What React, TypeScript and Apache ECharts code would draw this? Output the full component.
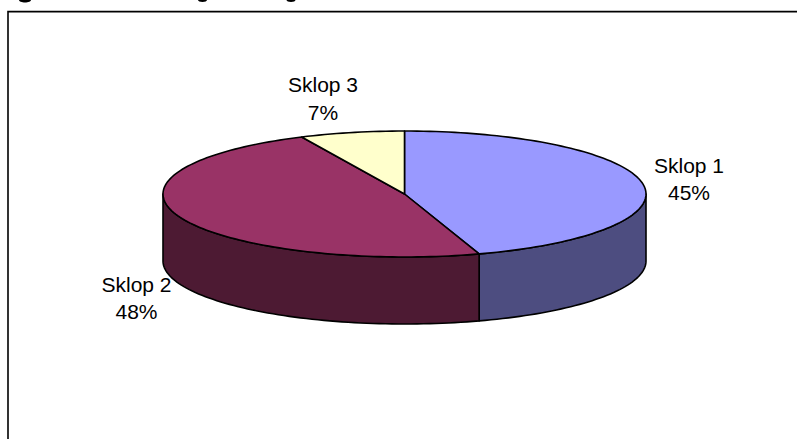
import React, { useEffect, useRef } from "react";
import * as echarts from "echarts";

const categories = ["Sklop 1", "Sklop 2", "Sklop 3"];
const shares = [45, 48, 7];
const topColors = ["#9999FF", "#993366", "#FFFFCC"];
const sideColors = ["#4D4D80", "#4D1A33", "#808066"];
const labelAnchors = [
  [689, 179],
  [136.5, 298],
  [323, 98.5],
];

const CX = 404.5;
const CY = 194;
const RX = 241.5;
const RY = 63;
const DEPTH = 67;
const total = shares.reduce((a, b) => a + b, 0);

// clockwise from twelve o'clock, in degrees
const rimPoint = (deg: number, dy = 0): number[] => {
  const r = (deg * Math.PI) / 180;
  return [CX + RX * Math.sin(r), CY - RY * Math.cos(r) + dy];
};
const arcPoints = (from: number, to: number, dy = 0): number[][] => {
  const steps = Math.max(2, Math.ceil((to - from) / 1.5));
  const pts: number[][] = [];
  for (let i = 0; i <= steps; i++) pts.push(rimPoint(from + ((to - from) * i) / steps, dy));
  return pts;
};

const renderSlice = (params: any, api: any) => {
  const i = params.dataIndex;
  const before = shares.slice(0, i).reduce((a, b) => a + b, 0);
  const start = (before / total) * 360;
  const end = start + (api.value(0) / total) * 360;
  const children: any[] = [];
  const stroke = { stroke: "#000", lineWidth: 1.6, lineJoin: "round" };
  const sideFrom = Math.max(start, 90);
  const sideTo = Math.min(end, 270);
  if (sideTo > sideFrom) {
    const upper = arcPoints(sideFrom, sideTo);
    const lower = arcPoints(sideFrom, sideTo, DEPTH).reverse();
    children.push({
      type: "polygon",
      shape: { points: [...upper, ...lower] },
      style: { fill: sideColors[i], ...stroke },
    });
  }
  children.push({
    type: "polygon",
    shape: { points: [[CX, CY], ...arcPoints(start, end)] },
    style: { fill: topColors[i], ...stroke },
  });
  children.push({
    type: "text",
    x: labelAnchors[i][0],
    y: labelAnchors[i][1],
    style: {
      text: `${categories[i]}\n${api.value(0)}%`,
      fill: "#000",
      font: '21px "Liberation Sans", Arial, sans-serif',
      lineHeight: 27.5,
      align: "center",
      verticalAlign: "middle",
    },
  });
  return { type: "group", children };
};

export default function App() {
  const ref = useRef<HTMLDivElement>(null);
  useEffect(() => {
    document.body.style.margin = "0";
    const chart = echarts.init(ref.current!, undefined, { renderer: "svg" });
    chart.setOption({
      animation: false,
      backgroundColor: "#fff",
      graphic: [
        {
          type: "rect",
          silent: true,
          shape: { x: 8, y: 11.6, width: 900, height: 600 },
          style: { fill: "none", stroke: "#000", lineWidth: 1.6 },
        },
        { type: "ellipse", shape: { cx: 25, cy: 0, rx: 6, ry: 2.5 }, style: { fill: "#000" } },
        { type: "ellipse", shape: { cx: 202.5, cy: 0, rx: 4.5, ry: 2 }, style: { fill: "#000" } },
        { type: "ellipse", shape: { cx: 291, cy: 0, rx: 4.5, ry: 2 }, style: { fill: "#000" } },
      ],
      series: [
        {
          type: "custom",
          coordinateSystem: "none",
          renderItem: renderSlice,
          data: shares.map((v, i) => ({ name: categories[i], value: [v] })),
        },
      ],
    });
    return () => chart.dispose();
  }, []);
  return <div ref={ref} style={{ position: "absolute", left: 0, top: 0, width: 797, height: 439 }} />;
}
